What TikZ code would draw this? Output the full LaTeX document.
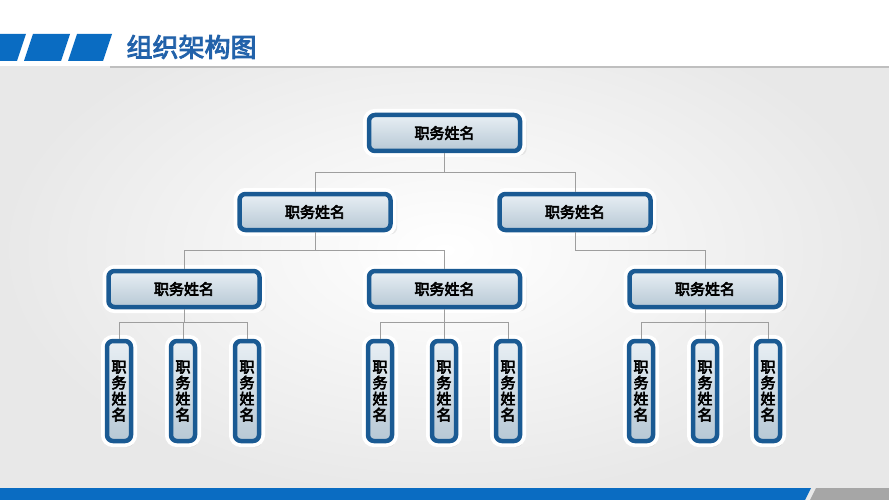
\documentclass[tikz,border=0pt]{standalone}
\usepackage{fontspec}
\newfontfamily\cjk[FakeBold=4]{Noto Sans CJK SC}
\newfontfamily\cjktitle[FakeBold=3.5]{Noto Sans CJK SC}
\usetikzlibrary{shadows}
\definecolor{bblue}{HTML}{0A6CC2}
\definecolor{frameblue}{HTML}{1A5A93}
\definecolor{titleblue}{HTML}{2262AA}
\definecolor{fillTop}{HTML}{E8EFF4}
\definecolor{fillBot}{HTML}{B7C8D5}
\tikzset{
  orgbox/.style={draw=frameblue, line width=4.5pt, rounded corners=6pt,
    top color=fillTop, bottom color=fillBot, inner sep=0pt, outer sep=2.25pt,
    preaction={draw=white, line width=12pt, rounded corners=8pt,
      drop shadow={shadow xshift=2pt, shadow yshift=-3pt, opacity=0.15, shadow scale=1.06}},
    font=\cjk\fontsize{15}{16}\selectfont, text=black},
  hbox/.style={orgbox, minimum width=151pt, minimum height=36pt},
  vbox/.style={orgbox, minimum width=24pt, minimum height=100pt, align=center,
    font=\cjk\fontsize{15}{16}\selectfont},
  conn/.style={draw=black!38, line width=1pt},
}
\begin{document}
\begin{tikzpicture}[x=1pt,y=-1pt]
\useasboundingbox (0,0) rectangle (889,500);
\shade[inner color=white, outer color=black!9] (0,0) rectangle (889,500);
\fill[white] (0,0) rectangle (889,66);
% header bars
\fill[bblue] (0,34) -- (26,34) -- (17,61) -- (0,61) -- cycle;
\fill[bblue] (33,34) -- (70,34) -- (61,61) -- (24,61) -- cycle;
\fill[bblue] (77,34) -- (112,34) -- (103,61) -- (68,61) -- cycle;
\draw[black!25, line width=2pt] (110,67) -- (889,67);
\node[anchor=west, text=titleblue, font=\cjktitle\fontsize{26}{28}\selectfont] (title) at (123,47) {组织架构图};
% bottom bar
\fill[bblue] (0,488) -- (811,488) -- (805,500) -- (0,500) -- cycle;
\fill[black!35] (816,488) -- (889,488) -- (889,500) -- (810,500) -- cycle;
% nodes
\node[hbox] (top) at (444.5,133) {职务姓名};
\node[hbox] (l2a) at (315,212) {职务姓名};
\node[hbox] (l2b) at (575,212) {职务姓名};
\node[hbox] (l3a) at (184,289) {职务姓名};
\node[hbox] (l3b) at (444.5,289) {职务姓名};
\node[hbox] (l3c) at (705,289) {职务姓名};
\foreach \n/\x in {a1/119,a2/183,a3/247,b1/380,b2/444,b3/508,c1/641,c2/705,c3/768}{
  \node[vbox] (v\n) at (\x,391) {职\\务\\姓\\名};
}
% connectors
\draw[conn] (top.south) -- ++(0,19) -| (l2a.north);
\draw[conn] (top.south) -- ++(0,19) -| (l2b.north);
\draw[conn] (l2a.south) -- ++(0,18) -| (l3a.north);
\draw[conn] (l2a.south) -- ++(0,18) -| (l3b.north);
\draw[conn] (l2b.south) -- ++(0,18) -| (l3c.north);
\foreach \p in {a,b,c}{
  \foreach \i in {1,2,3}{
    \draw[conn] (l3\p.south) -- ++(0,13) -| (v\p\i.north);
  }
}
\end{tikzpicture}
\end{document}
